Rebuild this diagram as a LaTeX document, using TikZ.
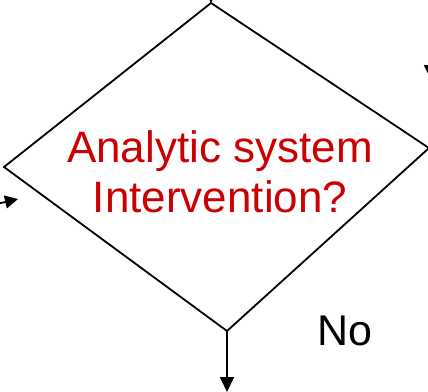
\documentclass[tikz,border=0pt]{standalone}
\usepackage{fontspec}
\setmainfont{Liberation Sans}
\usetikzlibrary{arrows.meta}
\definecolor{qred}{RGB}{204,0,0}
\begin{document}
\begin{tikzpicture}[x=1pt,y=-1pt,
  edge/.style={draw=black,line width=1.8pt,line join=miter},
  flow/.style={draw=black,line width=1.8pt,-{Triangle[length=15pt,width=14pt]}},
  smallflow/.style={draw=black,line width=1.8pt,-{Triangle[length=13pt,width=13pt]}},
  question/.style={text=qred,align=center,font=\fontsize{44}{50}\selectfont,inner sep=0pt},
  answer/.style={text=black,font=\fontsize{43}{50}\selectfont,inner sep=0pt}]
\useasboundingbox (0,0) rectangle (428,391);
\clip (0,0) rectangle (428,391);
% decision diamond corners
\coordinate (top) at (211,3);
\coordinate (right) at (429,148);
\coordinate (bottom) at (227,331);
\coordinate (left) at (4,167);
\draw[edge] (top) -- (right) -- (bottom) -- (left) -- cycle;
% question text (base anchor sits on the last line)
\node[question,anchor=base] (q) at (220,212) {Analytic system\\Intervention?};
% outgoing "No" branch
\coordinate (out) at (227,392);
\draw[flow] (bottom) -- (out);
\node[answer,anchor=base] (no) at (345,345) {No};
% incoming flow from above
\coordinate (inTop) at (211,-40);
\draw[flow] (inTop) -- (top);
% flow entering from the left
\coordinate (leftStart) at (-12,206);
\coordinate (leftEnd) at (18,199);
\draw[smallflow] (leftStart) -- (leftEnd);
% flow passing on the right
\coordinate (rStart) at (431,30);
\coordinate (rEnd) at (431,80);
\draw[flow] (rStart) -- (rEnd);
\end{tikzpicture}
\end{document}
